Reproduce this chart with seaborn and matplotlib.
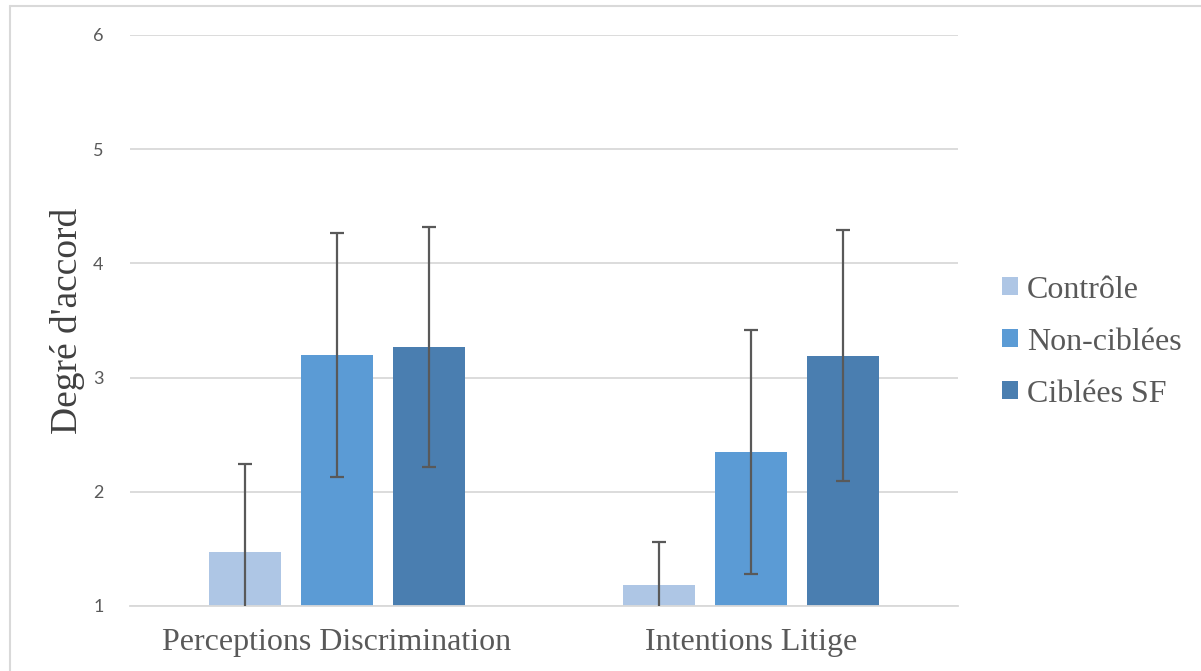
import numpy as np
import pandas as pd
import matplotlib.pyplot as plt
import seaborn as sns
from matplotlib.lines import Line2D
from matplotlib.patches import Patch

# Values (means and +/- error)
categories = ['Perceptions Discrimination', 'Intentions Litige']
groups = ['Contrôle', 'Non-ciblées', 'Ciblées SF']
controle = [1.47, 1.18]
non_ciblees = [3.20, 2.35]
ciblees_sf = [3.27, 3.19]
err_controle = [0.77, 0.38]
err_non_ciblees = [1.07, 1.07]
err_ciblees_sf = [1.05, 1.10]

colors = ['#AEC6E5', '#5B9BD5', '#4A7EB0']

sns.set_style('white')

df = pd.DataFrame({
    'categorie': categories * 3,
    'groupe': [g for g in groups for _ in categories],
    'valeur': controle + non_ciblees + ciblees_sf,
    'erreur': err_controle + err_non_ciblees + err_ciblees_sf,
})

fig = plt.figure(figsize=(12.01, 6.71), dpi=100)
ax = fig.add_axes([0.1082, 0.0969, 0.6894, 0.851])

sns.barplot(data=df, x='categorie', y='valeur', hue='groupe', hue_order=groups,
            order=categories, palette=colors, width=0.667, gap=0.22,
            errorbar=None, legend=False, linewidth=0, saturation=1, ax=ax)

# error bars placed on the bars seaborn drew
for container, grp in zip(ax.containers, groups):
    sub = df[df['groupe'] == grp].set_index('categorie').loc[categories]
    xs = [b.get_x() + b.get_width() / 2 for b in container]
    ax.errorbar(xs, sub['valeur'], yerr=sub['erreur'], fmt='none',
                ecolor='#595959', elinewidth=1.6, capsize=5, capthick=1.6,
                zorder=5)

ax.set_ylim(1, 6)
ax.set_xlim(-0.5, 1.5)
ax.set_yticks([1, 2, 3, 4, 5, 6])
ax.yaxis.grid(True, color='#d9d9d9', linewidth=1.3)
ax.set_axisbelow(True)
for s in ['top', 'right', 'left']:
    ax.spines[s].set_visible(False)
ax.spines['bottom'].set_color('#d9d9d9')
ax.spines['bottom'].set_linewidth(1.3)
ax.tick_params(axis='both', length=0)
ax.tick_params(axis='y', pad=19, labelsize=13, labelcolor='#595959')
ax.tick_params(axis='x', pad=16, labelsize=23, labelcolor='#595959')
for lab in ax.get_yticklabels():
    lab.set_family(['Lato', 'DejaVu Sans'])
for lab in ax.get_xticklabels():
    lab.set_family(['Liberation Serif', 'DejaVu Serif'])

ax.set_xlabel('')
ax.set_ylabel("Degré d'accord", fontsize=27, color='#404040',
              family=['Liberation Serif', 'DejaVu Serif'], labelpad=6)

handles = [Patch(facecolor=c, edgecolor='none') for c in colors]
leg = fig.legend(handles, groups, loc='center left',
                 bbox_to_anchor=(0.81, 0.49), frameon=False,
                 prop={'family': ['Liberation Serif', 'DejaVu Serif'], 'size': 23},
                 handlelength=0.5, handleheight=0.5, handletextpad=0.3,
                 labelspacing=0.72)
for t in leg.get_texts():
    t.set_color('#595959')

# light frame around the chart area (top and left edges visible)
fig.add_artist(Line2D([10 / 1201, 1], [1 - 6 / 671] * 2, transform=fig.transFigure,
                      color='#d9d9d9', linewidth=1.5))
fig.add_artist(Line2D([10 / 1201] * 2, [0, 1 - 6 / 671], transform=fig.transFigure,
                      color='#d9d9d9', linewidth=1.5))

fig.savefig('out.png', dpi=100, facecolor='white')
